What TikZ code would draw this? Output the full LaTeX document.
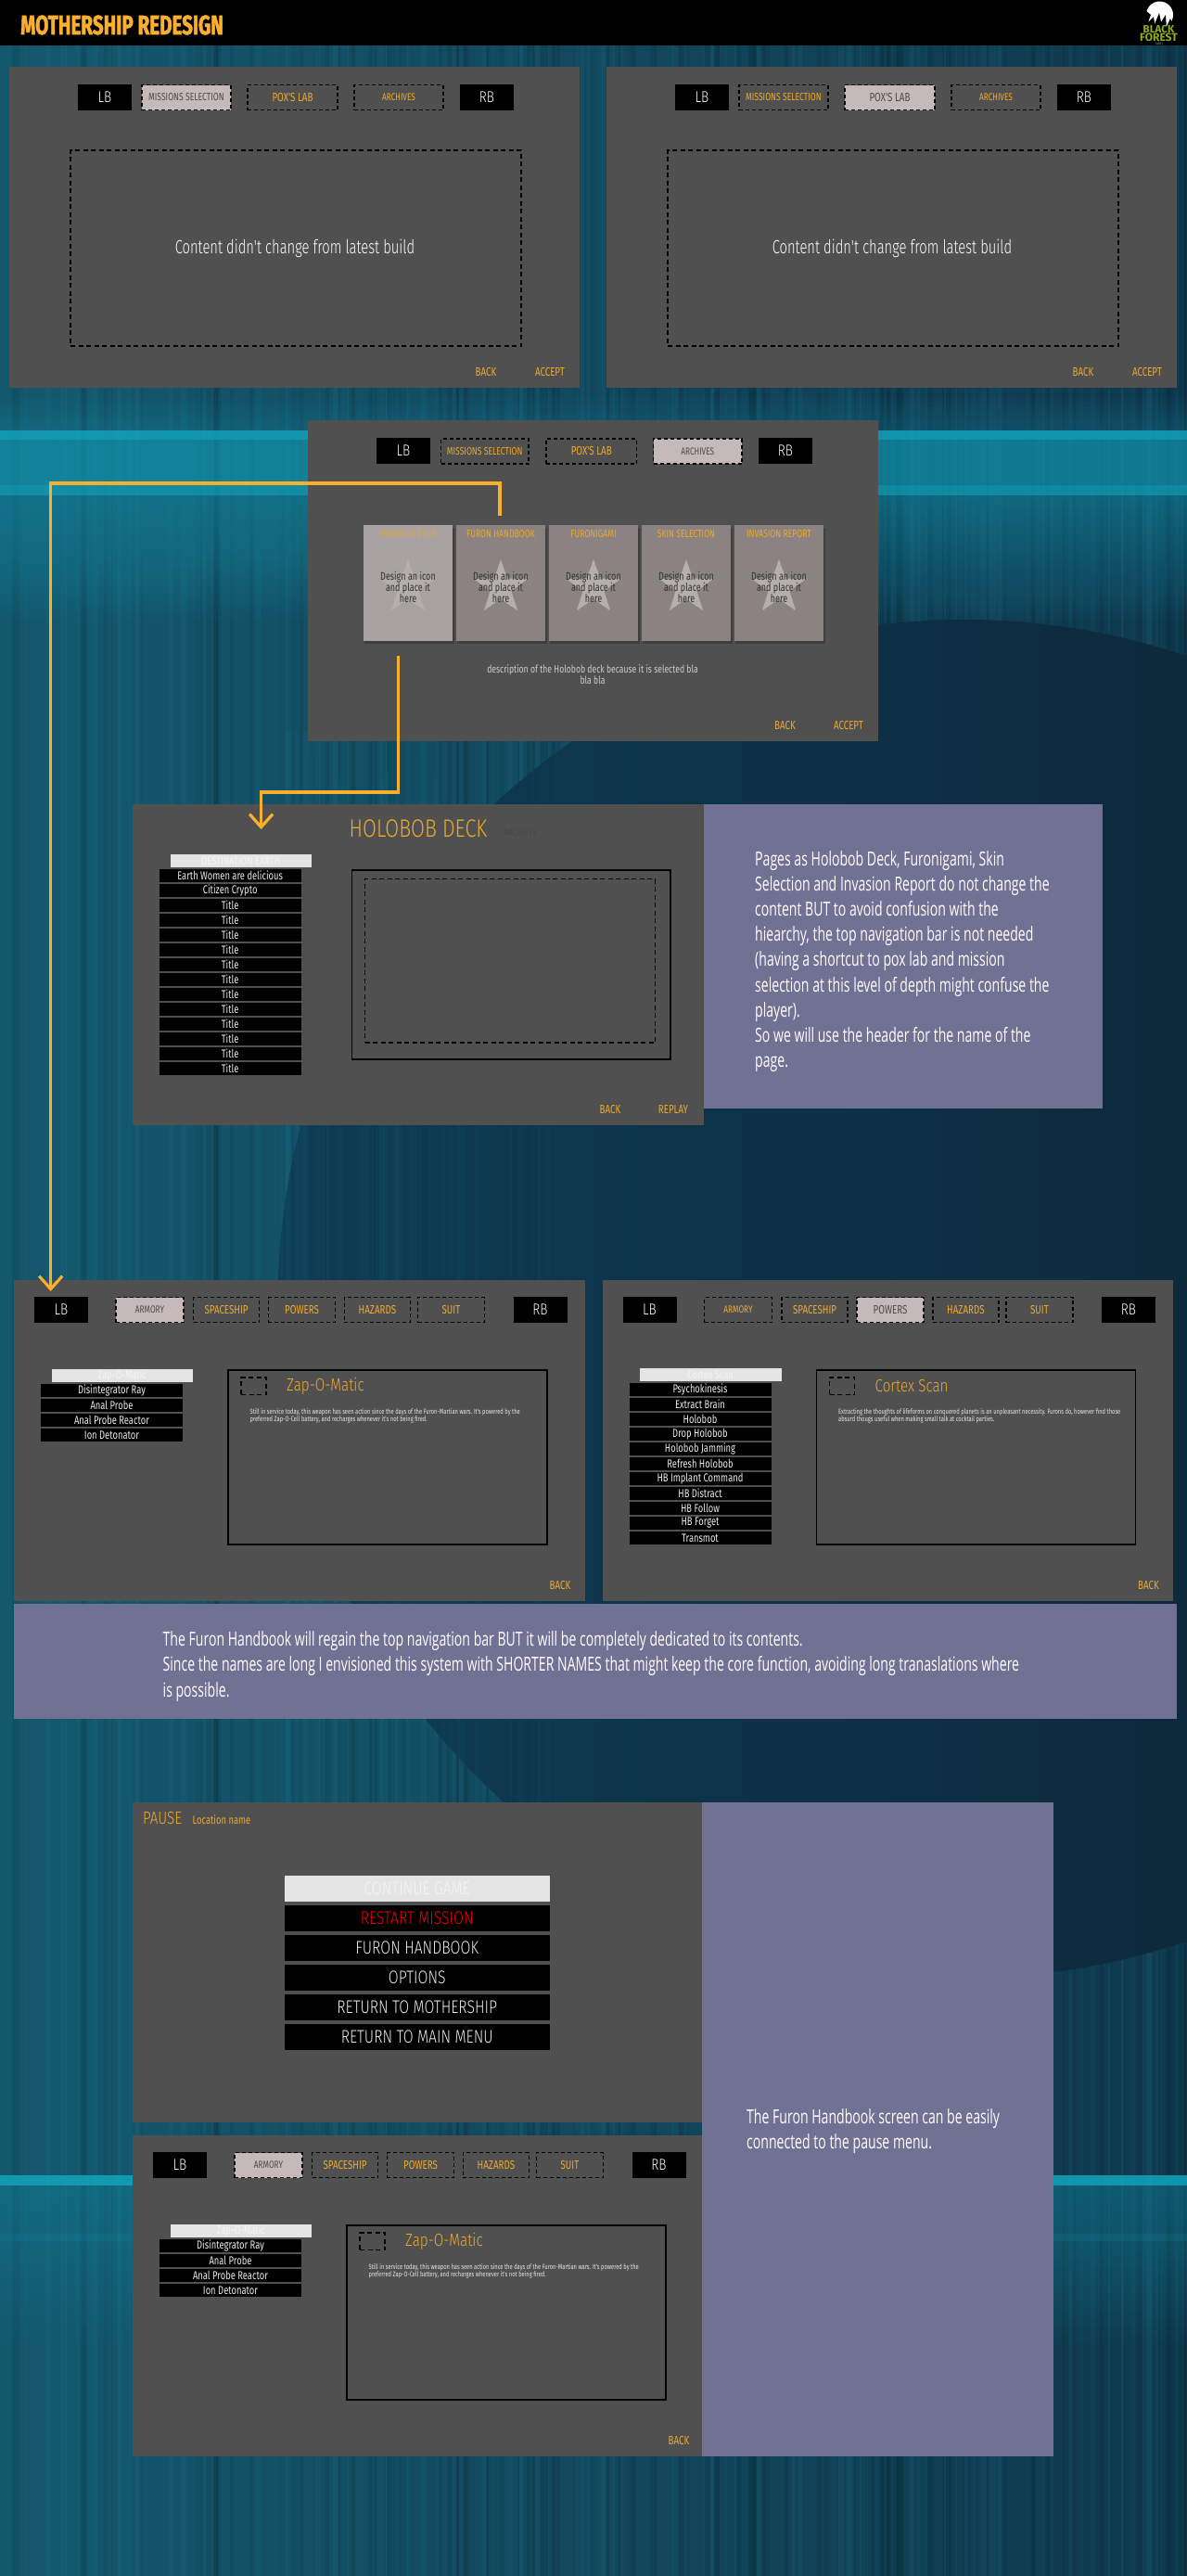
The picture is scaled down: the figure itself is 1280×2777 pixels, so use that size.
\documentclass[tikz,border=0pt]{standalone}
\usepackage{fontspec}
\usetikzlibrary{arrows.meta,shapes.geometric}
\newfontfamily\uilt[FakeStretch=0.8]{Fira Sans Light}
\newfontfamily\uin[FakeStretch=0.72]{Fira Sans Light}
\newfontfamily\uif[FakeStretch=0.75]{Fira Sans}
\newfontfamily\notef[FakeStretch=0.67]{Open Sans}
\newfontfamily\headf[FakeStretch=0.71,FakeBold=1.5]{Fira Sans}
\newfontfamily\logof{Fira Sans}
\definecolor{panelc}{HTML}{505050}
\definecolor{orng}{HTML}{EDA92E}
\definecolor{conn}{HTML}{FBB02D}
\definecolor{selc}{HTML}{C6B9B9}
\definecolor{notec}{HTML}{717193}
\definecolor{cardc}{HTML}{8B8282}
\definecolor{cardsel}{HTML}{A8A2A2}
\definecolor{barc}{HTML}{E4E4E4}
\definecolor{glow}{RGB}{18,165,190}
\definecolor{streakl}{RGB}{40,150,170}
\definecolor{bgl}{RGB}{20,88,110}
\definecolor{bgr}{RGB}{15,56,78}
\definecolor{discl}{RGB}{14,60,84}
\definecolor{discr}{RGB}{12,32,48}
\definecolor{logog}{RGB}{142,174,30}
\newcommand{\fs}[1]{\fontsize{#1}{#1}\selectfont}
\tikzset{
  panel/.style={fill=panelc,draw=none},
  blackbtn/.style={fill=black,text=white,font=\uilt\fs{17}},
  opentab/.style={draw=black,line width=1.3pt,dash pattern=on 4pt off 3pt,text=orng},
  seltab/.style={fill=selc,draw=black,line width=1.3pt,dash pattern=on 4pt off 3pt,text=black!60!selc},
  bigdash/.style={draw=black,line width=1.2pt,dash pattern=on 5pt off 3.5pt},
  frameb/.style={draw=black,line width=1.6pt},
  footer/.style={text=orng,font=\uif\fs{13}},
  rowb/.style={fill=black,text=white!92!black,font=\uif\fs{12.5}},
  barb/.style={fill=barc,text=white!96!black,font=\uif\fs{12.5}},
  menub/.style={fill=black,text=white!92!black,font=\uilt\fs{19.7}},
  notebox/.style={fill=notec,draw=none},
  notetxt/.style={text=white,anchor=north west,inner sep=0,align=left,font=\notef\fontsize{21}{27.2}\selectfont},
  cardtxt/.style={text=black!80!white,align=center,font=\uif\fontsize{12}{12}\selectfont,inner sep=0},
  connector/.style={draw=conn,line width=3.2pt,line join=miter},
  label/.style={inner sep=0}
}
% \bx{style}{name}{x1}{y1}{x2}{y2}{text}
\newcommand{\bx}[7]{%
  \pgfmathsetmacro\bw{#5-#3}\pgfmathsetmacro\bh{#6-#4}%
  \pgfmathsetmacro\bcx{(#3+#5)/2}\pgfmathsetmacro\bcy{(#4+#6)/2}%
  \node[#1,minimum width=\bw pt,minimum height=\bh pt,inner sep=0,outer sep=0] (#2) at (\bcx,\bcy) {#7};}
% archive-style top bar
\newcommand{\topbar}[3]{% prefix, dx, selected
  \begin{scope}[shift={(#2,0)}]
  \bx{panel}{#1p}{10}{72}{625}{418}{}
  \bx{blackbtn}{#1lb}{84}{91}{142}{119}{LB}
  \bx{blackbtn}{#1rb}{496}{91}{554}{119}{RB}
  \foreach \xa/\xb/\lab/\sz [count=\k] in {153/249/MISSIONS SELECTION/11.5,267/364/POX'S LAB/13,382/478/ARCHIVES/11}{
    \ifnum\k=#3 \def\st{seltab}\else\def\st{opentab}\fi
    \bx{\st,font=\uif\fs{\sz}}{#1tab\k}{\xa}{91.5}{\xb}{118.5}{\lab}}
  \bx{bigdash}{#1area}{76}{162}{562}{373}{}
  \node[label,text=white,font=\uin\fs{20.5}] (#1msg) at (318,268) {Content didn't change from latest build};
  \node[label,footer] (#1back) at (524,401) {BACK};
  \node[label,footer] (#1acc) at (593,401) {ACCEPT};
  \end{scope}}
% handbook panel: prefix,dx,dy,selected,listdy,bar text,rows,title,line1,line2
\newcommand{\hbp}[9]{%
  \def\pfx{#1}\def\hdx{#2}\def\hdy{#3}\def\hsel{#4}\def\ldy{#5}\def\btxt{#6}\def\hrows{#7}\def\httl{#8}\def\hla{#9}\hbprest}
\newcommand{\hbprest}[1]{%
  \begin{scope}[shift={(\hdx,\hdy)}]
  \bx{panel}{\pfx p}{15}{1380}{630.5}{1726}{}
  \bx{blackbtn}{\pfx lb}{37}{1398}{95}{1426}{LB}
  \bx{blackbtn}{\pfx rb}{553.5}{1398}{611.5}{1426}{RB}
  \foreach \xa/\xb/\lab/\sz [count=\k] in {125/198/ARMORY/11,208.6/279.6/SPACESHIP/13,289.4/361.6/POWERS/13,371.4/442.4/HAZARDS/13,450.6/522.4/SUIT/13}{
    \ifnum\k=\hsel\relax \def\st{seltab}\else\def\st{opentab}\fi
    \bx{\st,font=\uif\fs{\sz}}{\pfx tab\k}{\xa}{1398.5}{\xb}{1425.5}{\lab}}
  \begin{scope}[shift={(0,\ldy)}]
  \bx{barb}{\pfx bar}{55.5}{1476}{208}{1490}{\btxt}
  \foreach \t [count=\i from 0] in \hrows {
    \pgfmathsetmacro\ya{1492+16*\i}\pgfmathsetmacro\yb{\ya+14}
    \bx{rowb}{\pfx row\i}{44}{\ya}{197}{\yb}{\t}}
  \end{scope}
  \bx{frameb}{\pfx fr}{246}{1477}{590}{1665}{}
  \bx{bigdash}{\pfx ic}{260}{1485}{287}{1503.5}{}
  \node[label,anchor=west,text=orng,font=\uilt\fs{19}] (\pfx ttl) at (309,1494) {\httl};
  \node[label,anchor=west,text=white!90!black,font=\uif\fs{7.7}] (\pfx da) at (269.4,1522) {\hla};
  \node[label,anchor=west,text=white!90!black,font=\uif\fs{7.7}] (\pfx db) at (269.4,1530) {#1};
  \node[label,footer] (\pfx back) at (604,1709) {BACK};
  \end{scope}}
\begin{document}
\begin{tikzpicture}[x=1pt,y=-1pt]
\useasboundingbox (0,0) rectangle (1280,2777);
\begin{scope}
\clip (0,0) rectangle (1280,2777);
% background
\shade[left color=bgl,right color=bgr] (0,49) rectangle (1280,2777);
\pgfmathsetseed{4711}
\foreach \n in {1,...,260}{
  \pgfmathsetmacro\sx{rnd*1280}\pgfmathsetmacro\sw{1+rnd*6}
  \pgfmathsetmacro\so{0.03+rnd*0.08}
  \pgfmathparse{rnd>0.5?1:0}
  \ifnum\pgfmathresult=1\relax\def\sc{black}\else\def\sc{streakl}\fi
  \fill[\sc,opacity=\so] (\sx,49) rectangle (\sx+\sw,2777);
}
% upper horizontal glow
\foreach \i in {0,...,19}{
  \pgfmathsetmacro\ya{534+\i*7}
  \fill[glow,opacity=0.03] (0,464) rectangle (1280,\ya);
}
\foreach \i in {0,...,7}{\pgfmathsetmacro\ya{464-\i*5}\fill[glow,opacity=0.03] (0,\ya) rectangle (1280,534);}
\fill[glow,opacity=0.2] (0,464) rectangle (1280,534);
\fill[glow,opacity=0.6] (0,464) rectangle (1280,474);
\fill[glow,opacity=0.35] (0,523) rectangle (1280,534);
% lower horizontal glow
\foreach \i in {0,...,19}{
  \pgfmathsetmacro\ya{2355+\i*9}
  \fill[glow,opacity=0.025] (0,2345) rectangle (1280,\ya);
}
\fill[glow,opacity=0.8] (0,2345) rectangle (1280,2356);
\fill[glow,opacity=0.12] (0,2408) rectangle (1280,2416);
% large dark disc
\shade[left color=discl,right color=discr] (1040,1400) ellipse [x radius=740,y radius=732];
% streaks softening the left side of the disc
\foreach \n in {1,...,70}{
  \pgfmathsetmacro\sx{300+rnd*330}\pgfmathsetmacro\sw{1+rnd*6}
  \pgfmathsetmacro\so{0.02+rnd*0.05*(640-\sx)/340}
  \pgfmathsetmacro\sya{760+rnd*220}\pgfmathsetmacro\syb{1950+rnd*200}
  \fill[streakl,opacity=\so] (\sx,\sya) rectangle (\sx+\sw,\syb);
}
\end{scope}
% header
\fill[black] (0,0) rectangle (1280,49);
\node[inner sep=0,anchor=west,text=conn,font=\headf\bfseries\fs{29}] (title) at (22,27) {MOTHERSHIP REDESIGN};
% logo
\fill[white] (1250.5,16) circle [radius=14.5];
\fill[black] (1236,12) -- (1241,16) -- (1238,24) -- (1244,18) -- (1246,31) -- (1233,31) -- cycle;
\fill[black] (1243,31) -- (1250,14) -- (1252,24) -- (1257,16) -- (1258,31) -- cycle;
\fill[black] (1257,31) -- (1262,20) -- (1266,31) -- cycle;
\fill[black] (1226,27.5) rectangle (1274,49);
\node[label,text=logog,font=\logof\bfseries\fs{11.5}] (logoa) at (1249.5,32) {BLACK};
\node[label,text=logog,font=\logof\bfseries\fs{12}] (logob) at (1249.5,40.5) {FOREST};
\node[label,text=white!60!black,font=\uif\fs{3.5}] (logoc) at (1250,47) {GAMES};
% top two panels
\topbar{a}{0}{1}
\topbar{b}{644}{2}
% archives panel
\bx{panel}{cp}{332}{453}{947}{799}{}
\bx{blackbtn}{clb}{406}{472}{464}{500}{LB}
\bx{blackbtn}{crb}{818}{472}{876}{500}{RB}
\bx{opentab,font=\uif\fs{11.5}}{ctab1}{475.5}{473}{570}{500}{MISSIONS SELECTION}
\bx{opentab,font=\uif\fs{13}}{ctab2}{589}{473}{686.5}{500}{POX'S LAB}
\bx{seltab,font=\uif\fs{11}}{ctab3}{704.5}{473}{800}{500}{ARCHIVES}
\foreach \xa/\xb/\lab [count=\k] in {392/488/HOLOBOB DECK,492/588/FURON HANDBOOK,592/688/FURONIGAMI,692/788/SKIN SELECTION,792/888/INVASION REPORT}{
  \fill[black,opacity=0.22] (\xa+1,569) rectangle (\xb+2,694);
  \ifnum\k=1\relax\def\cc{cardsel}\def\tc{orng!70!cardsel}\else\def\cc{cardc}\def\tc{orng}\fi
  \pgfmathsetmacro\cxm{(\xa+\xb)/2}
  \bx{fill=\cc}{card\k}{\xa}{566}{\xb}{691}{}
  \node[label,text=\tc,font=\uif\fs{11.5}] (cardt\k) at (\cxm,576) {\lab};
  \node[star,star points=5,star point ratio=2.5,fill=white!35!cardc,minimum size=61pt,inner sep=0] (star\k) at (\cxm,633.5) {};
  \node[cardtxt] (cardd\k) at (\cxm,633) {Design an icon\\[0pt]and place it\\[0pt]here};
}
\node[label,align=center,text=white!80!black,font=\uif\fontsize{11.5}{12}\selectfont] (cdesc) at (639,727) {description of the Holobob deck because it is selected bla\\bla bla};
\node[label,footer] (cback) at (846.5,782) {BACK};
\node[label,footer] (cacc) at (915,782) {ACCEPT};
% holobob deck
\bx{panel}{dp}{143}{867}{759}{1213}{}
\node[label,text=orng,font=\uilt\fs{27}] (dtitle) at (451,893) {HOLOBOB DECK};
\node[label,text=panelc!88!black,font=\uif\fs{11}] (dghost) at (561,898) {ARCHIVES};
\bx{barb}{dbar}{183.5}{921}{336}{935}{DESTINATION EARTH}
\foreach \t [count=\i from 0] in {Earth Women are delicious,Citizen Crypto,Title,Title,Title,Title,Title,Title,Title,Title,Title,Title,Title,Title}{
  \pgfmathsetmacro\ya{937+16*\i}\pgfmathsetmacro\yb{\ya+14}
  \bx{rowb}{drow\i}{171.6}{\ya}{324.7}{\yb}{\t}}
\bx{frameb}{dfr}{379.4}{937.7}{723}{1142}{}
\bx{bigdash}{dda}{393.7}{947.7}{706.7}{1124}{}
\node[label,footer] (dback) at (658,1196) {BACK};
\node[label,footer] (drep) at (726,1196) {REPLAY};
\bx{notebox}{dnote}{759}{867}{1189.4}{1195}{}
\node[notetxt] (dnotet) at (814,917) {Pages as Holobob Deck, Furonigami, Skin\\Selection and Invasion Report do not change the\\content BUT to avoid confusion with the\\hiearchy, the top navigation bar is not needed\\(having a shortcut to pox lab and mission\\selection at this level of depth might confuse the\\player).\\So we will use the header for the name of the\\page.};
% handbook panels
\hbp{e}{0}{0}{1}{0}{Zap-O-Matic}{Disintegrator Ray,Anal Probe,Anal Probe Reactor,Ion Detonator}{Zap-O-Matic}{Still in service today, this weapon has seen action since the days of the Furon-Martian wars. It's powered by the}{preferred Zap-O-Cell battery, and recharges whenever it's not being fired.}
\hbp{f}{634.5}{0}{3}{-1}{Cortex Scan}{Psychokinesis,Extract Brain,Holobob,Drop Holobob,Holobob Jamming,Refresh Holobob,HB Implant Command,HB Distract,HB Follow,HB Forget,Transmot}{Cortex Scan}{Extracting the thoughts of lifeforms on conquered planets is an unpleasant necessity. Furons do, however find those}{absurd thougs useful when making small talk at cocktail parties.}
% note 2
\bx{notebox}{gnote}{15}{1729}{1269}{1853}{}
\node[notetxt] (gnotet) at (175.5,1758.5) {The Furon Handbook will regain the top navigation bar BUT it will be completely dedicated to its contents.\\Since the names are long I envisioned this system with SHORTER NAMES that might keep the core function, avoiding long tranaslations where\\is possible.};
% pause
\bx{panel}{hp}{143}{1943}{757}{2288}{}
\node[label,anchor=west,text=orng,font=\uilt\fs{19}] (hpause) at (154,1960) {PAUSE};
\node[label,anchor=west,text=orng,font=\uif\fs{12.5}] (hloc) at (207.5,1962) {Location name};
\bx{menub,fill=barc,text=white!96!black}{hm1}{307}{2021.7}{592.5}{2049.7}{CONTINUE GAME}
\bx{menub,text=red!95!black}{hm2}{307}{2053.7}{592.5}{2081.7}{RESTART MISSION}
\bx{menub}{hm3}{307}{2085.7}{592.5}{2113.7}{FURON HANDBOOK}
\bx{menub}{hm4}{307}{2117.7}{592.5}{2145.7}{OPTIONS}
\bx{menub}{hm5}{307}{2149.7}{592.5}{2177.7}{RETURN TO MOTHERSHIP}
\bx{menub}{hm6}{307}{2181.7}{592.5}{2209.7}{RETURN TO MAIN MENU}
\hbp{i}{128}{922}{1}{0}{Zap-O-Matic}{Disintegrator Ray,Anal Probe,Anal Probe Reactor,Ion Detonator}{Zap-O-Matic}{Still in service today, this weapon has seen action since the days of the Furon-Martian wars. It's powered by the}{preferred Zap-O-Cell battery, and recharges whenever it's not being fired.}
\bx{notebox}{inote}{757}{1943}{1136}{2648}{}
\node[notetxt] (inotet) at (805,2273.5) {The Furon Handbook screen can be easily\\connected to the pause menu.};
% connectors
\coordinate (ca) at (539,556);
\coordinate (cb) at (54.7,1392);
\coordinate (cc) at (429.5,707);
\coordinate (cd) at (281.6,894);
\draw[connector,-{Straight Barb[length=14pt,width=25pt,line width=3.2pt]}] (ca) -- (ca |- 0,521) -- (cb |- 0,521) -- (cb);
\draw[connector,-{Straight Barb[length=14pt,width=25pt,line width=3.2pt]}] (cc) -- (cc |- 0,854) -- (cd |- 0,854) -- (cd);
\end{tikzpicture}
\end{document}
